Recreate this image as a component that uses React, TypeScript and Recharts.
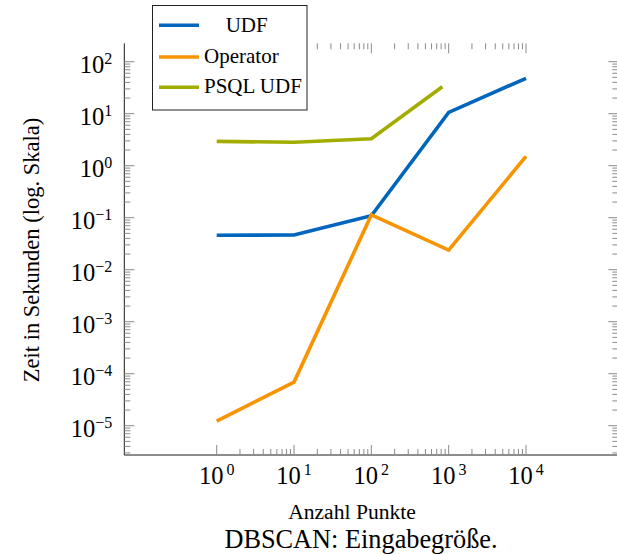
import React from 'react';
import { LineChart, Line, XAxis, YAxis } from 'recharts';

const FONT = '"Liberation Serif", "Times New Roman", Times, serif';

// ---- data ----
const seriesNames = ['UDF', 'Operator', 'PSQL UDF'];
const seriesColors = ['#0065BD', '#F79400', '#A2AD00'];

const udfX = [1, 10, 100, 1000, 10000];
const udfY = [0.046, 0.0465, 0.109, 10.6, 48];

const operatorX = [1, 10, 100, 1000, 10000];
const operatorY = [1.23e-5, 6.9e-5, 0.113, 0.0239, 1.51];

const psqlX = [1, 10, 100, 828];
const psqlY = [2.94, 2.82, 3.3, 33];

const xMajorTicks = [1, 10, 100, 1000, 10000];
const yMajorExponents = [-5, -4, -3, -2, -1, 0, 1, 2];
const minorMultipliers = [2, 3, 4, 5, 6, 7, 8, 9];

const xDomain: [number, number] = [Math.pow(10, -1.195), Math.pow(10, 5.195)];
const yDomain: [number, number] = [Math.pow(10, -5.563), Math.pow(10, 2.354)];

const xAxisTitle = 'Anzahl Punkte';
const yAxisTitle = 'Zeit in Sekunden (log. Skala)';
const caption = 'DBSCAN: Eingabegröße.';

// ---- layout ----
const CHART_W = 640;
const CHART_H = 554;
const PLOT_TOP = 43.3;
const PLOT_LEFT = 124.3;
const PLOT_RIGHT_MARGIN = 21.6;
const BOTTOM_AXIS_H = 99;
const PLOT_RIGHT = CHART_W - PLOT_RIGHT_MARGIN;
const LINE_W = 3.6;

// ---- derived tables ----
const toPoints = (xs: number[], ys: number[]) => xs.map((x, i) => ({ x, y: ys[i] }));
const udfData = toPoints(udfX, udfY);
const operatorData = toPoints(operatorX, operatorY);
const psqlData = toPoints(psqlX, psqlY);

const xTicks: number[] = [];
for (let i = 0; i < xMajorTicks.length; i++) {
  xTicks.push(xMajorTicks[i]);
  if (i < xMajorTicks.length - 1) {
    minorMultipliers.forEach((m) => xTicks.push(m * xMajorTicks[i]));
  }
}
xTicks.sort((a, b) => a - b);

const yTicks: number[] = [];
const yLow = yMajorExponents[0] - 1;
for (let e = yLow; e <= yMajorExponents[yMajorExponents.length - 1]; e++) {
  const base = Math.pow(10, e);
  if (e >= yMajorExponents[0]) yTicks.push(base);
  if (e < yMajorExponents[yMajorExponents.length - 1]) {
    minorMultipliers.forEach((m) => {
      const v = m * base;
      if (v >= yDomain[0] && v <= yDomain[1]) yTicks.push(v);
    });
  }
}
yTicks.sort((a, b) => a - b);

const isMajor = (v: number) => Math.abs(Math.log10(v) - Math.round(Math.log10(v))) < 1e-6;
const expStr = (v: number) => {
  const e = Math.round(Math.log10(v));
  return e < 0 ? '\u2212' + Math.abs(e) : String(e);
};

const TICK_COLOR = '#8a8a8a';
const MAJOR_LEN = 10;
const MINOR_LEN = 6;

// left axis tick: also mirrors the tick on the right frame edge
const LeftTick = (props: any) => {
  const { x, y, payload } = props;
  const v = payload.value;
  const major = isMajor(v);
  const len = major ? MAJOR_LEN : MINOR_LEN;
  return (
    <g>
      <line x1={x} y1={y} x2={x + len} y2={y} stroke={TICK_COLOR} strokeWidth={1} />
      <line x1={PLOT_RIGHT} y1={y} x2={PLOT_RIGHT - len} y2={y} stroke={TICK_COLOR} strokeWidth={1} />
      {major && (
        <text x={x - 12} y={y + 11.6} textAnchor="end" fontFamily={FONT} fontSize={24.5} fill="#000">
          10
          <tspan dy={-9.3} fontSize={16}>
            {expStr(v)}
          </tspan>
        </text>
      )}
    </g>
  );
};

// bottom axis tick: also mirrors the tick on the top frame edge
const BottomTick = (props: any) => {
  const { x, y, payload } = props;
  const v = payload.value;
  const major = isMajor(v);
  const len = major ? MAJOR_LEN : MINOR_LEN;
  return (
    <g>
      <line x1={x} y1={y} x2={x} y2={y - len} stroke={TICK_COLOR} strokeWidth={1} />
      <line x1={x} y1={PLOT_TOP} x2={x} y2={PLOT_TOP + len} stroke={TICK_COLOR} strokeWidth={1} />
      {major && (
        <text x={x} y={y + 29.3} textAnchor="middle" fontFamily={FONT} fontSize={24.5} fill="#000">
          10
          <tspan dx={3} dy={-9} fontSize={16}>
            {expStr(v)}
          </tspan>
        </text>
      )}
    </g>
  );
};

const axisLine = { stroke: '#1a1a1a', strokeWidth: 1 };

const legendRows = [
  { name: seriesNames[0], color: seriesColors[0], textX: 73.7, lineY: 20.3, textY: 27 },
  { name: seriesNames[1], color: seriesColors[1], textX: 52, lineY: 52, textY: 58 },
  { name: seriesNames[2], color: seriesColors[2], textX: 52, lineY: 82.3, textY: 88 },
];

export default function App() {
  return (
    <div style={{ position: 'absolute', left: 0, top: 0, width: 617, height: 554, overflow: 'hidden', background: '#fff' }}>
      <LineChart
        width={CHART_W}
        height={CHART_H}
        margin={{ top: PLOT_TOP, right: PLOT_RIGHT_MARGIN, bottom: 0, left: 0 }}
      >
        <XAxis
          xAxisId="bottom"
          dataKey="x"
          type="number"
          scale="log"
          domain={xDomain}
          allowDataOverflow
          ticks={xTicks}
          interval={0}
          tickSize={0}
          tickMargin={0}
          tickLine={false}
          tick={<BottomTick />}
          axisLine={axisLine}
          height={BOTTOM_AXIS_H}
          orientation="bottom"
        />
        <XAxis
          xAxisId="top"
          dataKey="x"
          type="number"
          scale="log"
          domain={xDomain}
          allowDataOverflow
          tick={false}
          tickLine={false}
          axisLine={axisLine}
          height={0}
          orientation="top"
        />
        <YAxis
          yAxisId="left"
          dataKey="y"
          type="number"
          scale="log"
          domain={yDomain}
          allowDataOverflow
          ticks={yTicks}
          interval={0}
          tickSize={0}
          tickMargin={0}
          tickLine={false}
          tick={<LeftTick />}
          axisLine={axisLine}
          width={PLOT_LEFT}
          orientation="left"
        />
        <YAxis
          yAxisId="right"
          dataKey="y"
          type="number"
          scale="log"
          domain={yDomain}
          allowDataOverflow
          tick={false}
          tickLine={false}
          axisLine={axisLine}
          width={0}
          orientation="right"
        />
        <Line
          xAxisId="bottom"
          yAxisId="left"
          data={udfData}
          dataKey="y"
          name={seriesNames[0]}
          stroke={seriesColors[0]}
          strokeWidth={LINE_W}
          dot={false}
          activeDot={false}
          type="linear"
          isAnimationActive={false}
        />
        <Line
          xAxisId="bottom"
          yAxisId="left"
          data={operatorData}
          dataKey="y"
          name={seriesNames[1]}
          stroke={seriesColors[1]}
          strokeWidth={LINE_W}
          dot={false}
          activeDot={false}
          type="linear"
          isAnimationActive={false}
        />
        <Line
          xAxisId="bottom"
          yAxisId="left"
          data={psqlData}
          dataKey="y"
          name={seriesNames[2]}
          stroke={seriesColors[2]}
          strokeWidth={LINE_W}
          dot={false}
          activeDot={false}
          type="linear"
          isAnimationActive={false}
        />
      </LineChart>

      {/* titles */}
      <svg width={617} height={554} style={{ position: 'absolute', left: 0, top: 0, pointerEvents: 'none' }}>
        <text
          x={39}
          y={250}
          transform="rotate(-90 39 250)"
          textAnchor="middle"
          fontFamily={FONT}
          fontSize={22.5}
          fill="#000"
        >
          {yAxisTitle}
        </text>
        <text x={352} y={519.3} textAnchor="middle" fontFamily={FONT} fontSize={21.6} fill="#000">
          {xAxisTitle}
        </text>
        <text x={361} y={548} textAnchor="middle" fontFamily={FONT} fontSize={26.3} fill="#000">
          {caption}
        </text>
      </svg>

      {/* legend */}
      <svg
        width={156}
        height={106}
        style={{ position: 'absolute', left: 152, top: 5, pointerEvents: 'none' }}
      >
        <rect x={0.5} y={0.5} width={154.5} height={104.5} fill="#fff" stroke="#222" strokeWidth={1} />
        {legendRows.map((r) => (
          <g key={r.name}>
            <line x1={7} y1={r.lineY} x2={47} y2={r.lineY} stroke={r.color} strokeWidth={LINE_W} />
            <text x={r.textX} y={r.textY} fontFamily={FONT} fontSize={21} fill="#000">
              {r.name}
            </text>
          </g>
        ))}
      </svg>
    </div>
  );
}
